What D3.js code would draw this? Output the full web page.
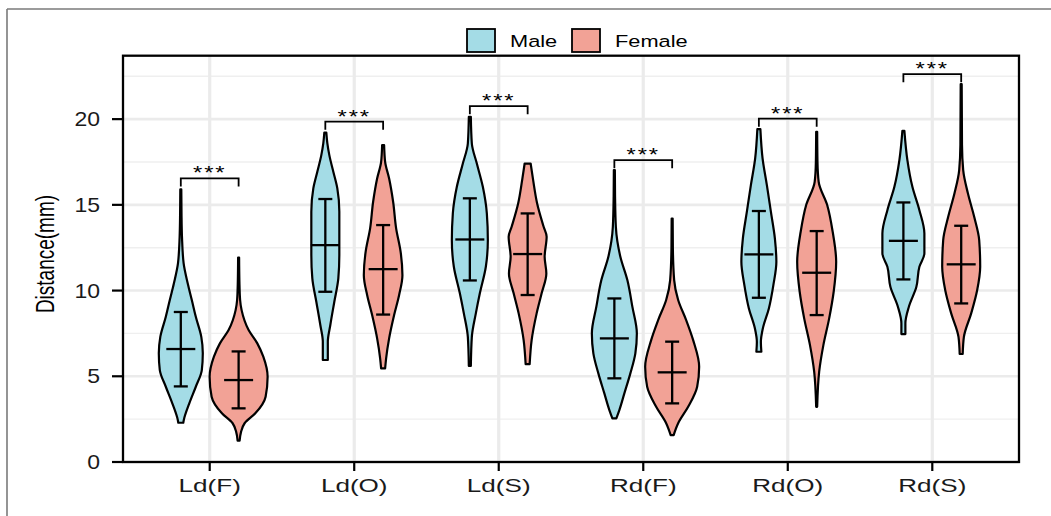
<!DOCTYPE html>
<html>
<head>
<meta charset="utf-8">
<script src="https://cdn.jsdelivr.net/npm/d3@7"></script>
<style>
  body { margin: 0; background: #fff; }
  svg { display: block; font-family: "Liberation Sans", Arial, sans-serif; }
</style>
</head>
<body>
<svg id="chart"></svg>
<script>
// ---- data ----
const categories = ["Ld(F)", "Ld(O)", "Ld(S)", "Rd(F)", "Rd(O)", "Rd(S)"];
const groups = ["Male", "Female"];
const yTicks = [0, 5, 10, 15, 20];
const yMinor = [2.5, 7.5, 12.5, 17.5, 22.5];

// mean and mean +/- sd
const maleMean   = [6.59, 12.65, 12.98, 7.21, 12.11, 12.90];
const maleLo     = [4.41,  9.93, 10.59, 4.88,  9.58, 10.65];
const maleHi     = [8.75, 15.34, 15.38, 9.54, 14.64, 15.14];
const femaleMean = [4.78, 11.25, 12.13, 5.23, 11.04, 11.53];
const femaleLo   = [3.13,  8.60,  9.74, 3.42,  8.57,  9.25];
const femaleHi   = [6.45, 13.82, 14.50, 7.02, 13.47, 13.78];

// violin outlines: [value, density] from bottom to top
const maleShapes = [
  [[2.29,.25],[2.45,.3],[3.42,.85],[4.39,1.5],[5.36,2.1],[6.34,2.2],[7.3,2.05],[8.47,1.5],[9.45,1.1],[10.4,.7],[11.6,.28],[13.1,.12],[14.5,.07],[15.9,.05]],
  [[5.95,.25],[7.01,.25],[7.99,.5],[9.35,.9],[10.71,1.3],[12.07,1.4],[13.24,1.4],[14.6,1.4],[15.96,1.2],[16.93,.8],[17.9,.4],[18.6,.2],[19.22,.1]],
  [[5.6,.1],[7.3,.2],[8.67,.6],[9.84,1.0],[11.39,1.6],[12.94,1.8],[14.5,1.7],[16.05,1.3],[17.41,.7],[18.58,.2],[20.14,.1]],
  [[2.55,.2],[3.03,.5],[4.0,1.0],[5.17,1.6],[6.34,2.1],[7.5,2.25],[9.06,1.8],[10.61,1.3],[11.97,.6],[13.72,.15],[15.5,.07],[17.03,.05]],
  [[6.43,.25],[7.0,.2],[7.8,.4],[8.96,1.0],[10.32,1.45],[11.68,1.75],[13.04,1.6],[14.6,1.2],[16.15,.8],[17.71,.37],[19.42,.15]],
  [[7.46,.2],[8.09,.2],[9.06,.55],[10.22,1.3],[11.39,1.6],[12.17,2.1],[13.33,2.1],[14.69,1.6],[16.05,.9],[17.61,.4],[19.32,.1]]
];
const femaleShapes = [
  [[1.24,.1],[1.77,.25],[2.26,.6],[2.84,1.67],[3.81,2.7],[4.97,2.9],[6.14,2.47],[6.92,1.87],[7.7,1.0],[8.86,.3],[9.45,.15],[10.5,.08],[11.93,.05]],
  [[5.46,.2],[6.05,.3],[7.21,.6],[8.57,1.1],[9.74,1.6],[10.9,1.93],[12.26,1.75],[13.63,1.3],[15.18,1.0],[16.54,.6],[17.51,.2],[18.48,.1]],
  [[5.71,.2],[7.11,.4],[8.67,.9],[9.84,1.4],[11.0,1.87],[11.97,1.7],[13.14,1.9],[13.72,1.6],[15.08,.95],[16.44,.55],[17.41,.3]],
  [[1.57,.15],[2.26,.6],[3.22,1.6],[4.39,2.5],[5.56,2.7],[7.11,2.1],[8.28,1.4],[9.45,.6],[10.61,.2],[12.5,.07],[14.2,.05]],
  [[3.22,.05],[5.27,.25],[6.82,.67],[8.38,1.25],[9.93,1.7],[11.68,1.95],[13.43,1.6],[14.99,1.05],[16.34,.2],[17.5,.08],[19.26,.05]],
  [[6.3,.15],[7.3,.27],[8.67,1.0],[10.03,1.6],[11.39,1.9],[12.94,1.8],[14.3,1.3],[15.67,.67],[17.03,.2],[18.5,.08],[22.04,.05]]
];

// significance brackets
const sigY = [16.54, 19.85, 20.76, 17.61, 20.03, 22.62];
const sigText = ["***", "***", "***", "***", "***", "***"];

const colors = { Male: "#A4DCE6", Female: "#F2A296" };

// ---- layout ----
const width = 1051, height = 516;
const panel = { left: 123, right: 1019, top: 55.7, bottom: 462 };

const svg = d3.select("#chart")
  .attr("width", width)
  .attr("height", height)
  .attr("viewBox", [0, 0, width, height]);

const x = d3.scalePoint()
  .domain(categories)
  .range([panel.left, panel.right])
  .padding(0.6);
const dodge = x.step() * 0.2;

const y = d3.scaleLinear()
  .domain([0, 23.7])
  .range([panel.bottom, panel.top]);

const w = d3.scaleLinear().domain([0, 1]).range([0, 10]);

// text is horizontally stretched in the original figure
function placeText(sel, px, py, sx) {
  sel.attr("x", 0).attr("y", 0)
    .attr("transform", `translate(${px},${py}) scale(${sx},1)`);
}

// outer frame (top and left only)
svg.append("line")
  .attr("x1", 7).attr("x2", width).attr("y1", 9).attr("y2", 9)
  .attr("stroke", "#7a7a7a").attr("stroke-width", 1.6);
svg.append("line")
  .attr("x1", 7).attr("x2", 7).attr("y1", 9).attr("y2", height)
  .attr("stroke", "#7a7a7a").attr("stroke-width", 1.6);

// grid
const grid = svg.append("g");
grid.selectAll(".minor")
  .data(yMinor.filter(v => y(v) > panel.top))
  .join("line")
  .attr("x1", panel.left).attr("x2", panel.right)
  .attr("y1", d => y(d)).attr("y2", d => y(d))
  .attr("stroke", "#EFEFEF").attr("stroke-width", 1.4);
grid.selectAll(".major")
  .data(yTicks)
  .join("line")
  .attr("x1", panel.left).attr("x2", panel.right)
  .attr("y1", d => y(d)).attr("y2", d => y(d))
  .attr("stroke", "#EBEBEB").attr("stroke-width", 2.6);
grid.selectAll(".vmajor")
  .data(categories)
  .join("line")
  .attr("x1", d => x(d)).attr("x2", d => x(d))
  .attr("y1", panel.top).attr("y2", panel.bottom)
  .attr("stroke", "#EBEBEB").attr("stroke-width", 3.2);

// violins
const violinData = [];
categories.forEach((c, i) => {
  violinData.push({ cat: c, group: "Male", cx: x(c) - dodge, shape: maleShapes[i],
    mean: maleMean[i], lo: maleLo[i], hi: maleHi[i] });
  violinData.push({ cat: c, group: "Female", cx: x(c) + dodge, shape: femaleShapes[i],
    mean: femaleMean[i], lo: femaleLo[i], hi: femaleHi[i] });
});

const vg = svg.append("g");
const violins = vg.selectAll("g")
  .data(violinData)
  .join("g");

violins.append("path")
  .attr("d", d => d3.area()
      .curve(d3.curveMonotoneY)
      .y(p => y(p[0]))
      .x0(p => d.cx - w(p[1]))
      .x1(p => d.cx + w(p[1]))(d.shape))
  .attr("fill", d => colors[d.group])
  .attr("stroke", "#000")
  .attr("stroke-width", 2.2)
  .attr("stroke-linejoin", "round");

// error bars (mean +/- sd) and mean crossbar
const capW = 7, meanW = 14.5, sw = 2.3;
violins.append("line")
  .attr("x1", d => d.cx).attr("x2", d => d.cx)
  .attr("y1", d => y(d.lo)).attr("y2", d => y(d.hi))
  .attr("stroke", "#000").attr("stroke-width", sw);
violins.append("line")
  .attr("x1", d => d.cx - capW).attr("x2", d => d.cx + capW)
  .attr("y1", d => y(d.lo)).attr("y2", d => y(d.lo))
  .attr("stroke", "#000").attr("stroke-width", sw);
violins.append("line")
  .attr("x1", d => d.cx - capW).attr("x2", d => d.cx + capW)
  .attr("y1", d => y(d.hi)).attr("y2", d => y(d.hi))
  .attr("stroke", "#000").attr("stroke-width", sw);
violins.append("line")
  .attr("x1", d => d.cx - meanW).attr("x2", d => d.cx + meanW)
  .attr("y1", d => y(d.mean)).attr("y2", d => y(d.mean))
  .attr("stroke", "#000").attr("stroke-width", sw);

// significance brackets
const tip = 0.47;
const sg = svg.append("g");
categories.forEach((c, i) => {
  const x0 = x(c) - dodge, x1 = x(c) + dodge, yy = sigY[i];
  sg.append("path")
    .attr("d", `M${x0},${y(yy - tip)}V${y(yy)}H${x1}V${y(yy - tip)}`)
    .attr("fill", "none").attr("stroke", "#000").attr("stroke-width", 1.8);
  sg.append("text")
    .attr("text-anchor", "middle")
    .attr("font-size", 19)
    .attr("letter-spacing", 1.5)
    .call(placeText, x(c), y(yy) + 1, 1.25)
    .text(sigText[i]);
});

// panel border
svg.append("rect")
  .attr("x", panel.left).attr("y", panel.top)
  .attr("width", panel.right - panel.left)
  .attr("height", panel.bottom - panel.top)
  .attr("fill", "none").attr("stroke", "#000").attr("stroke-width", 2.3);

// y axis
const ya = svg.append("g");
ya.selectAll("line")
  .data(yTicks)
  .join("line")
  .attr("x1", panel.left - 11).attr("x2", panel.left)
  .attr("y1", d => y(d)).attr("y2", d => y(d))
  .attr("stroke", "#000").attr("stroke-width", 2.2);
ya.selectAll("text")
  .data(yTicks)
  .join("text")
  .attr("text-anchor", "end")
  .attr("font-size", 20)
  .attr("fill", "#1a1a1a")
  .each(function(d) { d3.select(this).call(placeText, 100, y(d) + 7, 1.15); })
  .text(d => d);

// x axis
const xa = svg.append("g");
xa.selectAll("line")
  .data(categories)
  .join("line")
  .attr("x1", d => x(d)).attr("x2", d => x(d))
  .attr("y1", panel.bottom).attr("y2", panel.bottom + 9)
  .attr("stroke", "#000").attr("stroke-width", 2.2);
xa.selectAll("text")
  .data(categories)
  .join("text")
  .attr("text-anchor", "middle")
  .attr("font-size", 18)
  .attr("fill", "#1a1a1a")
  .each(function(d) { d3.select(this).call(placeText, x(d), 492, 1.45); })
  .text(d => d);

// y title
svg.append("text")
  .attr("text-anchor", "middle")
  .attr("font-size", 19)
  .attr("x", 0).attr("y", 0)
  .attr("transform", `translate(54,254) scale(1.4,1) rotate(-90)`)
  .text("Distance(mm)");

// legend
const legendX = [467, 572];
const lg = svg.append("g");
groups.forEach((g, i) => {
  lg.append("rect")
    .attr("x", legendX[i]).attr("y", 29)
    .attr("width", 28).attr("height", 23)
    .attr("fill", colors[g]).attr("stroke", "#000").attr("stroke-width", 1.8);
  lg.append("text")
    .attr("font-size", 16.5)
    .call(placeText, legendX[i] + 43, 47, 1.32)
    .text(g);
});
</script>
</body>
</html>
